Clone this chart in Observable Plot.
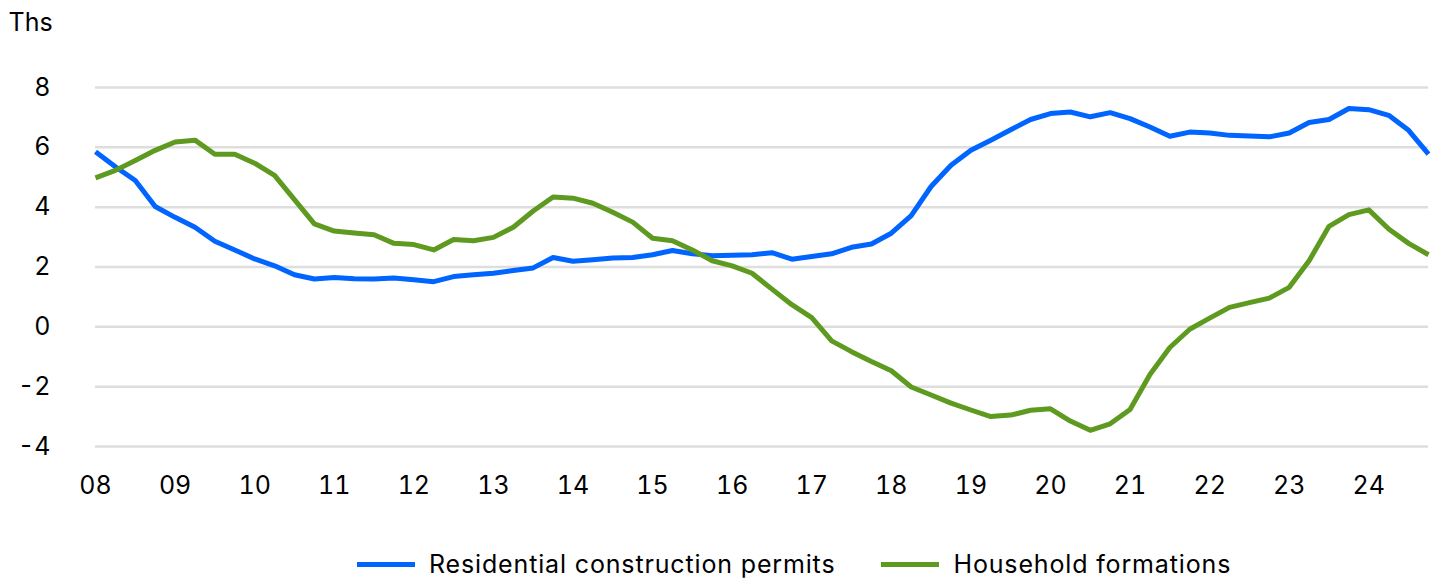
<!DOCTYPE html>
<html>
<head>
<meta charset="utf-8">
<script src="https://cdn.jsdelivr.net/npm/d3@7"></script>
<script src="https://cdn.jsdelivr.net/npm/@observablehq/plot@0.6"></script>
<style>
  html, body { margin: 0; padding: 0; background: #fff; }
  body { font-family: Inter, "Liberation Sans", Arial, sans-serif; color: #000; }
  #wrap { position: relative; width: 1439px; height: 579px; overflow: hidden; }
  #legend { position: absolute; left: 357px; top: 549px; display: flex; align-items: center; font-size: 25px; line-height: 30px; letter-spacing: 0.85px; white-space: nowrap; }
  .item { display: flex; align-items: center; }
  .swatch { width: 58px; height: 5px; margin-right: 14px; }
  .item + .item { margin-left: 46px; }
</style>
</head>
<body>
<div id="wrap"></div>
<script>
const startYear = 2008;
const seriesNames = ["Residential construction permits", "Household formations"];
const seriesColors = ["#0064ff", "#5d9a1f"];
const yTicks = [-4, -2, 0, 2, 4, 6, 8];
const xTicks = [2008, 2009, 2010, 2011, 2012, 2013, 2014, 2015, 2016, 2017, 2018, 2019, 2020, 2021, 2022, 2023, 2024];
const unitLabel = "Ths";

const permits = [5.85, 5.35, 4.89, 4.02, 3.66, 3.33, 2.86, 2.57, 2.27, 2.04, 1.74, 1.60, 1.65, 1.61, 1.60, 1.63,
  1.57, 1.51, 1.68, 1.74, 1.79, 1.88, 1.97, 2.32, 2.19, 2.24, 2.30, 2.32, 2.41, 2.55, 2.44, 2.38,
  2.39, 2.41, 2.48, 2.26, 2.35, 2.44, 2.66, 2.77, 3.13, 3.72, 4.69, 5.40, 5.90, 6.24, 6.59, 6.93,
  7.13, 7.18, 7.02, 7.16, 6.96, 6.68, 6.37, 6.51, 6.48, 6.40, 6.38, 6.35, 6.48, 6.83, 6.93, 7.30,
  7.26, 7.07, 6.57, 5.77];
const households = [4.98, 5.23, 5.56, 5.90, 6.18, 6.24, 5.77, 5.77, 5.47, 5.06, 4.25, 3.44, 3.20, 3.14, 3.08, 2.79,
  2.75, 2.57, 2.92, 2.88, 2.99, 3.33, 3.87, 4.34, 4.30, 4.13, 3.83, 3.50, 2.96, 2.88, 2.57, 2.21,
  2.04, 1.79, 1.26, 0.74, 0.31, -0.47, -0.83, -1.16, -1.47, -2.01, -2.28, -2.55, -2.78, -3.00, -2.95, -2.79,
  -2.74, -3.15, -3.46, -3.24, -2.76, -1.59, -0.69, -0.08, 0.29, 0.65, 0.81, 0.96, 1.32, 2.21, 3.36, 3.75,
  3.91, 3.27, 2.79, 2.41];

const rows = [];
[permits, households].forEach((vals, s) => {
  vals.forEach((v, i) => rows.push({ t: startYear + i / 4, v, series: seriesNames[s] }));
});
const lastT = startYear + (permits.length - 1) / 4;
const yearFmt = d => String(d % 100).padStart(2, "0");

const chart = Plot.plot({
  width: 1439,
  height: 520,
  marginLeft: 95,
  marginRight: 11,
  marginTop: 87,
  marginBottom: 74,
  style: { fontFamily: 'Inter, "Liberation Sans", Arial, sans-serif', fontSize: "25px", color: "#000", background: "#fff" },
  x: { domain: [startYear, lastT], ticks: xTicks, tickFormat: yearFmt, label: null },
  y: { domain: [-4, 8], ticks: yTicks, label: null },
  color: { domain: seriesNames, range: seriesColors },
  marks: [
    Plot.gridY(yTicks, { stroke: "#dedede", strokeWidth: 2.5, strokeOpacity: 1 }),
    Plot.axisY(yTicks, { tickSize: 0, tickPadding: 45, label: null, fontSize: 25, tickFormat: d => `${d}` }),
    Plot.axisX(xTicks, { tickSize: 0, tickPadding: 30, label: null, fontSize: 25, tickFormat: yearFmt }),
    Plot.line(rows, { x: "t", y: "v", z: "series", stroke: "series", strokeWidth: 5, strokeLinecap: "butt", strokeLinejoin: "round" }),
    Plot.text([unitLabel], { frameAnchor: "top-left", dx: -87, dy: -74, textAnchor: "start", fontSize: 25 })
  ]
});
const wrap = document.getElementById("wrap");
wrap.appendChild(chart);

const legend = document.createElement("div");
legend.id = "legend";
seriesNames.forEach((name, i) => {
  const item = document.createElement("div");
  item.className = "item";
  const sw = document.createElement("span");
  sw.className = "swatch";
  sw.style.background = seriesColors[i];
  const label = document.createElement("span");
  label.textContent = name;
  item.appendChild(sw);
  item.appendChild(label);
  legend.appendChild(item);
});
wrap.appendChild(legend);
</script>
</body>
</html>
